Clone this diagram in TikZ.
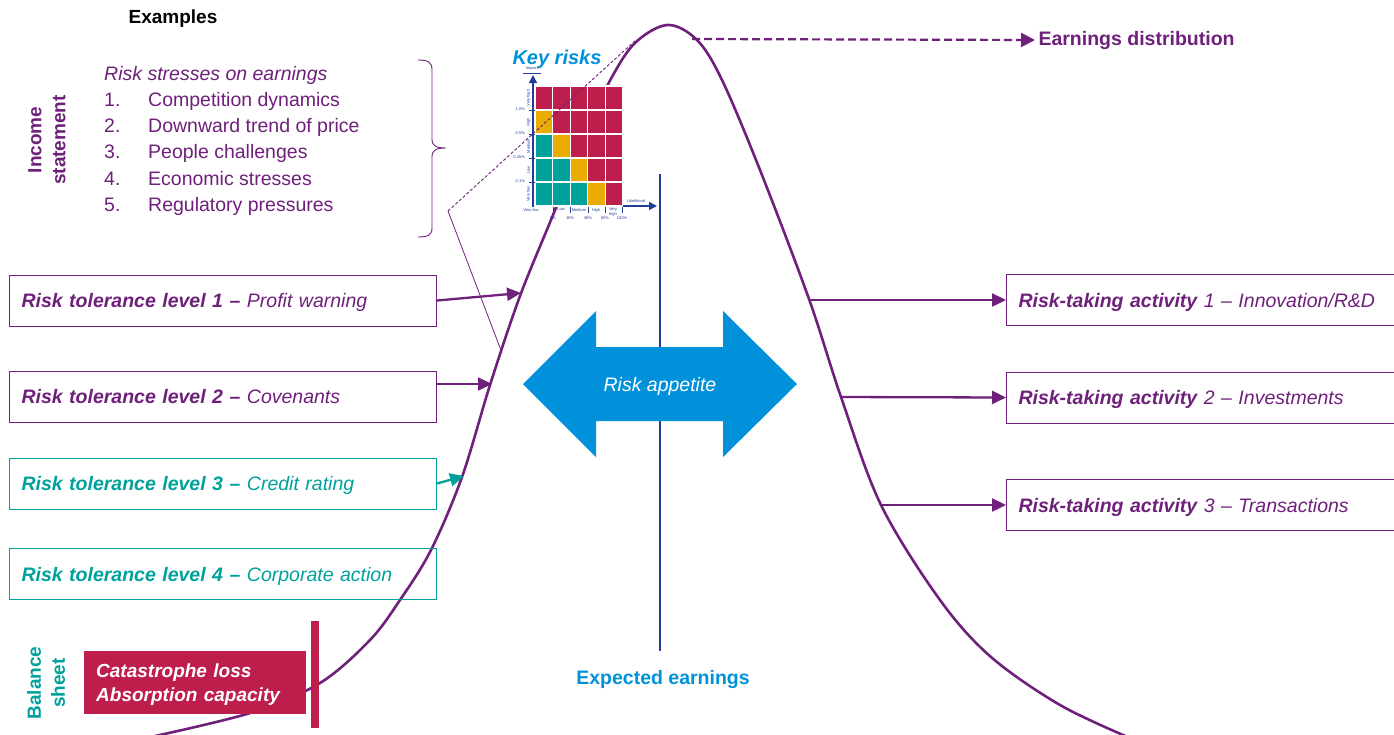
\documentclass[tikz,border=0pt]{standalone}
\usepackage{fontspec}
\setmainfont{Liberation Sans}
\usetikzlibrary{arrows.meta}
\definecolor{rpurple}{RGB}{110,32,122}
\definecolor{rteal}{RGB}{0,161,155}
\definecolor{rcrimson}{RGB}{190,30,75}
\definecolor{ryellow}{RGB}{234,172,0}
\definecolor{rblue}{RGB}{0,145,218}
\definecolor{rnavy}{RGB}{32,62,152}
\tikzstyle{tolbox} = [draw=rpurple, line width=1pt, text=rpurple,
minimum height=51pt, text width=403pt, inner xsep=12pt,
text depth=0pt, align=left, anchor=west,
font=\fontsize{19.5}{23}\selectfont\itshape]
\tikzstyle{tolteal} = [tolbox, draw=rteal, text=rteal]
\tikzstyle{actbox} = [tolbox, text width=420pt]
\tikzstyle{arrow} = [line width=2.3pt, -{Triangle[length=14pt,width=13pt]}]
\tikzstyle{listtext} = [anchor=base west, inner sep=0pt, text=rpurple, font=\fontsize{19.5}{23}\selectfont]
\tikzstyle{tinylab} = [inner sep=0pt, text=rnavy, font=\fontsize{4}{4.5}\selectfont, align=center]

\begin{document}
\begin{tikzpicture}[x=1pt, y=-1pt]
\useasboundingbox (0,0) rectangle (1394,734);

% earnings distribution curve
\draw[rpurple, line width=2.6pt] plot[smooth, tension=0.55] coordinates {(146,738) (250,713) (320,683) (370,640) (400,600) (431,550) (462,477) (490,385) (520,296) (553,215) (583,140) (605,90) (633,45) (667,25) (697,40) (722,80) (760,170) (809,299) (841,397) (881,505) (940,600) (991,657) (1060,705) (1130,738)};
\coordinate (c1) at (521,293);
\coordinate (c2) at (492,384);
\coordinate (c3) at (464,476);
\coordinate (r1) at (809,300);
\coordinate (r2) at (840,397);
\coordinate (r3) at (881,505);
\coordinate (peak) at (692,39);

% key risks heat map
\foreach \r/\cells in {0/{rcrimson,rcrimson,rcrimson,rcrimson,rcrimson},
  1/{ryellow,rcrimson,rcrimson,rcrimson,rcrimson},
  2/{rteal,ryellow,rcrimson,rcrimson,rcrimson},
  3/{rteal,rteal,ryellow,rcrimson,rcrimson},
  4/{rteal,rteal,rteal,ryellow,rcrimson}}
  \foreach \cc [count=\c from 0] in \cells
    \filldraw[fill=\cc, draw=white, line width=1.2pt] (535+17.6*\c, 86+24*\r) rectangle ++(17.6,24);
\draw[rnavy, line width=1.6pt, -{Triangle[length=8pt,width=8pt]}] (533,207) -- (533,75);
\draw[rnavy, line width=0.8pt] (523,73) -- (541,73);
\node (impact) [tinylab] at (532,69) {Impact};
\draw[rnavy, line width=1.6pt, -{Triangle[length=8pt,width=8pt]}] (623,206) -- (657,206);
\node (likely) [tinylab] at (636,201) {Likelihood};
\foreach \y/\lab [count=\i] in {110/1.0\%, 134/0.5\%, 158/0.25\%, 182/0.1\%} {
  \draw[rnavy, line width=0.8pt] (529,\y) -- (535,\y);
  \node (ylab\i) [tinylab, anchor=east] at (525,\y-1) {\lab};
}
\foreach \y/\lab [count=\i] in {98/Very high, 122/High, 146/Medium, 170/Low, 194/Very low}
  \node (rowlab\i) [tinylab, rotate=90] at (528.5,\y) {\lab};
\foreach \x/\lab [count=\i] in {553/5\%, 570/15\%, 588/30\%, 605/60\%, 622/100\%} {
  \draw[rnavy, line width=0.8pt] (\x,207) -- (\x,213);
  \node (xlab\i) [tinylab] at (\x,218.5) {\lab};
}
\foreach \x/\lab [count=\i] in {531/Very low, 561/Low, 579/Medium, 596/High, 613/Very\\high}
  \node (catlab\i) [tinylab, anchor=north] at (\x,208) {\lab};
\node (keyrisks) [text=rblue, font=\fontsize{20}{24}\selectfont\bfseries\itshape] at (557,59) {Key risks};

% callout from the stresses to the curve
\coordinate (kink) at (448,211);
\coordinate (calltop) at (636,40);
\coordinate (callbot) at (502,353);
\draw[rpurple, line width=0.8pt] (kink) -- (callbot);
\draw[rpurple, line width=0.9pt, dash pattern=on 3pt off 2pt] (kink) -- (calltop);

% expected earnings
\coordinate (e1) at (660,174);
\coordinate (e2) at (660,651);
\draw[rnavy, line width=1.3pt] (e1) -- (e2);
\node (expected) [text=rblue, font=\fontsize{19.5}{23}\selectfont\bfseries] at (663,679) {Expected earnings};

% risk appetite arrow
\fill[rblue] (523,384) -- (596,311) -- (596,347) -- (723,347) -- (723,311) -- (797,384)
  -- (723,457) -- (723,421) -- (596,421) -- (596,457) -- cycle;
\node (appetite) [text=white, text depth=0pt, font=\fontsize{19.5}{23}\selectfont\itshape] at (660,384) {Risk appetite};

% earnings distribution label
\node (dist) [anchor=west, text=rpurple, font=\fontsize{19.5}{23}\selectfont\bfseries] at (1035,40) {Earnings distribution};
\draw[rpurple, line width=2.2pt, dash pattern=on 8pt off 4pt, -{Triangle[length=14pt,width=14pt]}] (peak) -- (dist.west);

% risk tolerance levels
\node (tol1) [tolbox] at (9,300.5) {\textbf{Risk tolerance level 1 –} Profit warning};
\node (tol2) [tolbox] at (9,396.5) {\textbf{Risk tolerance level 2 –} Covenants};
\node (tol3) [tolteal] at (9,483.5) {\textbf{Risk tolerance level 3 –} Credit rating};
\node (tol4) [tolteal] at (9,574) {\textbf{Risk tolerance level 4 –} Corporate action};
\draw [arrow, rpurple] (tol1.east) -- (c1);
\draw [arrow, rpurple] (tol2.east |- c2) -- (c2);
\draw [arrow, rteal] (tol3.east) -- (c3);

% risk-taking activities
\node (act1) [actbox] at (1006,300) {\textbf{Risk-taking activity} 1 – Innovation/R\&D};
\node (act2) [actbox] at (1006,397.5) {\textbf{Risk-taking activity} 2 – Investments};
\node (act3) [actbox] at (1006,505) {\textbf{Risk-taking activity} 3 – Transactions};
\draw [arrow, rpurple] (r1) -- (act1.west);
\draw [arrow, rpurple] (r2) -- (act2.west);
\draw [arrow, rpurple] (r3) -- (act3.west);

% income statement examples
\node (examples) [font=\fontsize{19}{23}\selectfont\bfseries] at (173,19) {Examples};
\node (income) [rotate=90, text=rpurple, align=center, font=\fontsize{19}{24}\selectfont\bfseries] at (47,140) {Income\\statement};
\node (stresses) [listtext, font=\fontsize{19.5}{23}\selectfont\itshape] at (104,80) {Risk stresses on earnings};
\foreach \t [count=\i] in {Competition dynamics, Downward trend of price, People challenges, Economic stresses, Regulatory pressures} {
  \node (num\i) [listtext] at (104,80+26.3*\i) {\i.};
  \node (item\i) [listtext] at (148,80+26.3*\i) {\t};
}
\draw[rpurple, line width=0.9pt] (418,60) .. controls (428,60) and (432,62) .. (432,70) -- (432,139)
  .. controls (432,146) and (436,148) .. (446,148) .. controls (436,148) and (432,150) .. (432,157)
  -- (432,228) .. controls (432,235) and (428,237) .. (418,237);

% balance sheet
\node (balance) [rotate=90, text=rteal, align=center, font=\fontsize{19}{24}\selectfont\bfseries] at (46,683) {Balance\\sheet};
\node (cat) [fill=rcrimson, anchor=north west, minimum height=63pt, text width=198pt, inner xsep=12pt,
  align=left, text=white, font=\fontsize{19}{24}\selectfont\bfseries\itshape] at (84,651) {\strut Catastrophe loss\\Absorption capacity};
\fill[rcrimson] (311,621) rectangle (319,728);

\end{tikzpicture}
\end{document}
